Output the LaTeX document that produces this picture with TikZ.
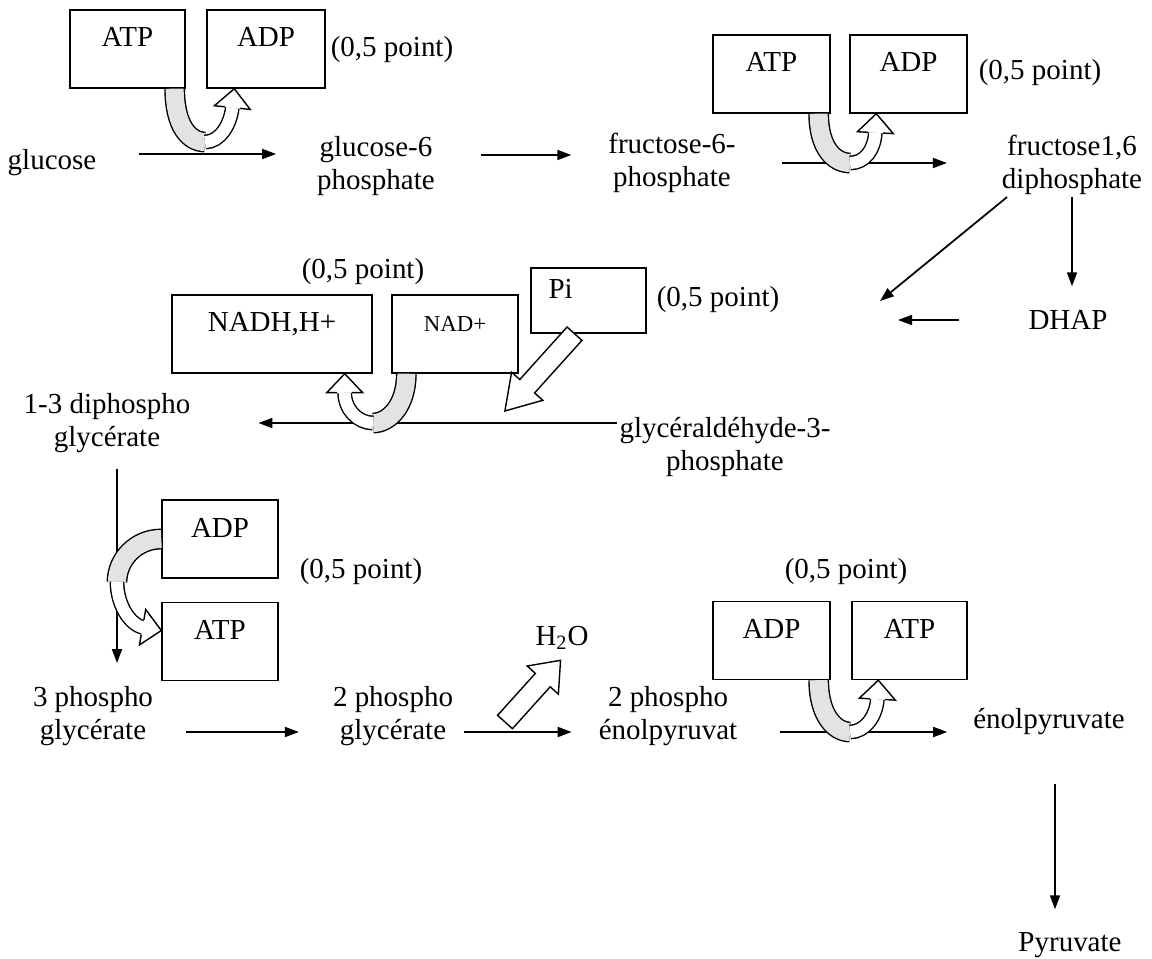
\documentclass[tikz,border=0pt]{standalone}
\usepackage{fontspec}
\setmainfont{Liberation Serif}
\usetikzlibrary{arrows.meta}
\tikzset{
  hollowhead/.pic={\draw[fill=white, line width=0.8pt] (-19,-7.5) -- (-19,-18) -- (0,0) -- (-19,18) -- (-19,7.5);},
  blockarr/.pic={\draw[fill=white, line width=0.8pt] (0,-10) -- (68,-10) -- (68,-21) -- (100,0) -- (68,21) -- (68,10) -- (0,10) -- cycle;}
}
\begin{document}
\begin{tikzpicture}[x=0.02cm, y=-0.02cm,
    every node/.style={font=\fontsize{16.5}{19}\selectfont},
    chem/.style={align=center, inner sep=1pt},
    cofbox/.style={draw, line width=0.8pt, inner sep=0pt, minimum width=2.3cm, minimum height=1.56cm, text height=0.74cm, text depth=0.82cm},
    arr/.style={line width=1pt, -{Triangle[length=0.28cm, width=0.2cm]}},
    bandin/.style={draw=black, line width=0.8pt, double=gray!22, double distance=0.36cm},
    bandout/.style={draw=black, line width=0.8pt, double=white, double distance=0.24cm}]
  \useasboundingbox (0,0) rectangle (1152,959);

  % molecules
  \node[chem] (glc)  at (52,163)   {glucose};
  \node[chem] (g6p)  at (376,166)  {glucose-6\\phosphate};
  \node[chem] (f6p)  at (672,163)  {fructose-6-\\phosphate};
  \node[chem] (f16)  at (1072,165) {fructose1,6\\diphosphate};
  \node[chem] (dhap) at (1068,320) {DHAP};
  \node[chem] (gap)  at (725,447)  {glycéraldéhyde-3-\\phosphate};
  \node[chem] (bpg)  at (107,423)  {1-3 diphospho\\glycérate};
  \node[chem] (pg3)  at (93,716)   {3 phospho\\glycérate};
  \node[chem] (pg2)  at (393,716)  {2 phospho\\glycérate};
  \node[chem] (pep)  at (668,716)  {2 phospho\\énolpyruvat};
  \node[chem] (enol) at (1049,722) {énolpyruvate};
  \node[chem] (pyr)  at (1070,945) {Pyruvate};
  \node[chem] (h2o)  at (562,638)  {H\textsubscript{2}O};

  % cofactors
  \node[cofbox] (atp1) at (127.5,49) {ATP};
  \node[cofbox, minimum width=2.36cm] (adp1) at (266,49) {ADP};
  \node[cofbox, minimum width=2.34cm] (atp2) at (771.5,74) {ATP};
  \node[cofbox, minimum width=2.34cm] (adp2) at (908.5,74) {ADP};
  \node[cofbox, minimum width=4cm] (nadh) at (272,334) {NADH,H+};
  \node[cofbox, minimum width=2.52cm, font=\fontsize{13}{15}\selectfont] (nad) at (455,334) {NAD+};
  \node[cofbox, minimum height=1.3cm, text height=0.6cm, text depth=0.7cm, text width=1.6cm, align=left] (pi) at (588.5,300.5) {Pi};
  \node[cofbox, minimum width=2.32cm] (adp3) at (220,539) {ADP};
  \node[cofbox, minimum width=2.32cm, minimum height=1.54cm] (atp3) at (220,641.5) {ATP};
  \node[cofbox, minimum width=2.34cm, minimum height=1.5cm] (adp4) at (771.5,640.5) {ADP};
  \node[cofbox, minimum height=1.5cm] (atp4) at (909.5,640.5) {ATP};

  % marks
  \node (pt1) at (392,50)  {(0,5 point)};
  \node (pt2) at (1040,73) {(0,5 point)};
  \node (pt3) at (363,272) {(0,5 point)};
  \node (pt4) at (718,300) {(0,5 point)};
  \node (pt5) at (361,572) {(0,5 point)};
  \node (pt6) at (846,572) {(0,5 point)};

  % reactions
  \draw[arr, shorten <=0.82cm, shorten >=0.78cm] ([yshift=0.18cm]glc.east) -- ([yshift=0.18cm]glc.east -| g6p.west);
  \draw[arr, shorten <=0.88cm, shorten >=0.7cm] ([yshift=0.22cm]g6p.east) -- ([yshift=0.22cm]g6p.east -| f6p.west);
  \draw[arr, shorten <=0.88cm, shorten >=1.06cm] (f6p.east) -- (f6p.east -| f16.west);
  \draw[arr] ([xshift=-1.3cm]f16.south) -- ([shift={(3.1cm,2.28cm)}]gap.north);
  \draw[arr, shorten >=0.44cm] (f16.south) -- (f16.south |- dhap.north);
  \coordinate (iso) at (898,320);
  \draw[arr, shorten <=1.34cm] (dhap.west) -- (iso);
  \draw[arr, shorten >=1.32cm] ([yshift=0.48cm]gap.west) -- ([yshift=0.48cm]gap.west -| bpg.east);
  \draw[arr, shorten <=0.28cm, shorten >=0.42cm] ([xshift=0.2cm]bpg.south) -- ([xshift=0.2cm]bpg.south |- pg3.north);
  \draw[arr, shorten <=0.62cm, shorten >=0.64cm] ([yshift=-0.32cm]pg3.east) -- ([yshift=-0.32cm]pg3.east -| pg2.west);
  \draw[arr, shorten <=0.18cm, shorten >=0.5cm] ([yshift=-0.32cm]pg2.east) -- ([yshift=-0.32cm]pg2.east -| pep.west);
  \draw[arr, shorten <=0.82cm, shorten >=0.48cm] ([yshift=-0.32cm]pep.east) -- ([yshift=-0.32cm]pep.east -| enol.west);
  \draw[arr, shorten <=0.94cm, shorten >=0.42cm] ([xshift=0.12cm]enol.south) -- ([xshift=0.12cm]enol.south |- pyr.north);

  % coupled cofactors
  \coordinate (m1) at (205,142);
  \draw[bandin] ([xshift=-0.22cm]atp1.south east) .. controls +(0,37) and +(-16,0) .. (m1);
  \draw[bandout] (m1) .. controls +(15,0) and +(-2,17) .. ([xshift=0.52cm, yshift=-0.38cm]adp1.south west);
  \pic[rotate=84] at ([xshift=0.56cm]adp1.south west) {hollowhead};

  \coordinate (m2) at (850,163);
  \draw[bandin] ([xshift=-0.24cm]atp2.south east) .. controls +(0,34) and +(-16,0) .. (m2);
  \draw[bandout] (m2) .. controls +(15,0) and +(-1,17) .. ([xshift=0.52cm, yshift=-0.38cm]adp2.south west);
  \pic[rotate=87] at ([xshift=0.54cm]adp2.south west) {hollowhead};

  \coordinate (m3) at (373,423);
  \draw[bandin] ([xshift=0.3cm]nad.south west) .. controls +(0,32) and +(16,0) .. (m3);
  \draw[bandout] (m3) .. controls +(-15,0) and +(0,17) .. ([xshift=-0.56cm, yshift=-0.38cm]nadh.south east);
  \pic[rotate=90] at ([xshift=-0.56cm]nadh.south east) {hollowhead};

  \coordinate (m4) at (850,732);
  \draw[bandin] ([xshift=-0.24cm]adp4.south east) .. controls +(0,34) and +(-16,0) .. (m4);
  \draw[bandout] (m4) .. controls +(15,0) and +(-1,17) .. ([xshift=0.52cm, yshift=-0.38cm]atp4.south west);
  \pic[rotate=87] at ([xshift=0.54cm]atp4.south west) {hollowhead};

  \coordinate (m5) at (117,582);
  \draw[bandin] (adp3.west) .. controls +(-26,0) and +(0,-22) .. (m5);
  \draw[bandout] (m5) .. controls +(0,22) and +(-14,-3) .. ([xshift=-0.36cm, yshift=0.28cm]atp3.west);
  \pic[rotate=-10] at ([yshift=0.22cm]atp3.west) {hollowhead};

  % Pi and water
  \pic[rotate=-132, xscale=1.04] at ([xshift=-0.28cm]pi.south) {blockarr};
  \coordinate (w) at (505,722);
  \pic[rotate=48, xscale=0.83] at (w) {blockarr};
\end{tikzpicture}
\end{document}
